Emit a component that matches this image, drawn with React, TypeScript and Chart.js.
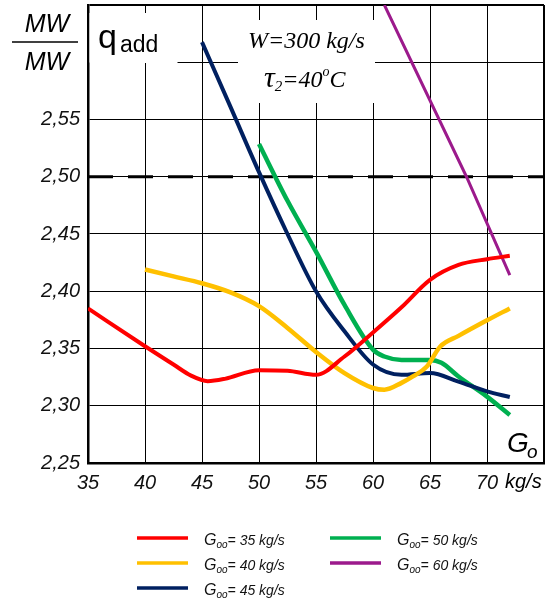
import React, { useEffect, useRef } from 'react';
import { Chart, registerables } from 'chart.js';
Chart.register(...registerables);

// ---- data ----
const xMin = 35;
const xMax = 75;
const yMin = 2.25;
const yMax = 2.65;
const refLevel = 2.5;

const redX = [35, 40, 42.5, 44, 45.5, 47, 50, 52.5, 55, 57.5, 60, 62.5, 65, 67.5, 70, 72];
const redY = [2.385, 2.352, 2.336, 2.3265, 2.3215, 2.3235, 2.331, 2.3305, 2.327, 2.343, 2.364, 2.386, 2.41, 2.423, 2.428, 2.431];

const yellowX = [40, 42.5, 45, 47.5, 50, 52.5, 55, 57.5, 60, 61, 62.5, 63.5, 64.7, 65.9, 67.5, 70, 72];
const yellowY = [2.419, 2.413, 2.407, 2.399, 2.387, 2.368, 2.347, 2.3285, 2.3155, 2.314, 2.32, 2.3256, 2.334, 2.3517, 2.361, 2.3746, 2.385];

const navyX = [45, 47.5, 50, 52.5, 55, 57.5, 60, 62.5, 65, 67.5, 70, 72];
const navyY = [2.6176, 2.561, 2.504, 2.45, 2.4, 2.365, 2.336, 2.327, 2.3285, 2.321, 2.3125, 2.3076];

const greenX = [50, 52.5, 55, 57.5, 60, 61, 62.5, 65, 66, 67.5, 70, 72];
const greenY = [2.5286, 2.479, 2.4346, 2.388, 2.349, 2.343, 2.34, 2.34, 2.3375, 2.3256, 2.308, 2.292];

const purpleX = [61, 68.2, 72];
const purpleY = [2.65, 2.5, 2.414];

const seriesLabels = ['35 kg/s', '40 kg/s', '45 kg/s', '50 kg/s', '60 kg/s'];
const seriesColors = ['#ff0000', '#ffc000', '#002060', '#00b050', '#9c1a8c'];

const pts = (xs: number[], ys: number[]) => xs.map((x, i) => ({ x, y: ys[i] }));

const SANS = '"Liberation Sans", Arial, sans-serif';
const SERIF = '"Liberation Serif", "Times New Roman", serif';

const overlay = {
  id: 'overlay',
  beforeDatasetsDraw(chart: any) {
    const c = chart.ctx;
    c.save();
    c.fillStyle = '#ffffff';
    c.fillRect(89.5, 13, 88, 50);
    c.fillRect(238, 20, 137, 83);
    c.restore();
  },
  afterDraw(chart: any) {
    const c = chart.ctx;
    c.save();
    c.fillStyle = '#000';
    c.strokeStyle = '#000';
    c.textBaseline = 'alphabetic';
    // MW / MW
    c.textAlign = 'center';
    c.font = `italic 25px ${SANS}`;
    c.fillText('MW', 47, 32);
    c.fillText('MW', 47, 70);
    c.lineWidth = 1.5;
    c.beginPath();
    c.moveTo(12, 42);
    c.lineTo(78, 42);
    c.stroke();
    // q_add
    c.textAlign = 'left';
    c.font = `34px ${SANS}`;
    c.fillText('q', 98, 48);
    c.font = `23px ${SANS}`;
    c.fillText('add', 120, 52);
    // W=300 kg/s
    c.font = `italic 24px ${SERIF}`;
    c.fillText('W=300 kg/s', 248, 48);
    // tau line
    let x = 264;
    c.font = `italic 30px ${SERIF}`;
    c.fillText('\u03c4', x, 87);
    x += c.measureText('\u03c4').width;
    c.font = `italic 15px ${SERIF}`;
    c.fillText('2', x, 91);
    x += c.measureText('2').width;
    c.font = `italic 24px ${SERIF}`;
    c.fillText('=40', x, 87);
    x += c.measureText('=40').width;
    c.font = `italic 14px ${SERIF}`;
    c.fillText('o', x, 76);
    x += c.measureText('o').width;
    c.font = `italic 24px ${SERIF}`;
    c.fillText('C', x, 87);
    // G_o
    c.font = `italic 28px ${SANS}`;
    c.fillText('G', 507, 452);
    c.font = `italic 19px ${SANS}`;
    c.fillText('o', 527, 458);
    // kg/s
    c.font = `italic 20px ${SANS}`;
    c.fillText('kg/s', 505, 488);
    // legend
    const cols = [137, 330];
    const rows = [538, 563, 588];
    const order = [[0, 0], [0, 1], [0, 2], [1, 0], [1, 1]];
    order.forEach(([col, row], i) => {
      const lx = cols[col];
      const ly = rows[row];
      c.strokeStyle = seriesColors[i];
      c.lineWidth = 3.5;
      c.beginPath();
      c.moveTo(lx, ly);
      c.lineTo(lx + 51, ly);
      c.stroke();
      let tx = lx + 67;
      c.fillStyle = '#111';
      c.font = `italic 16px ${SANS}`;
      c.fillText('G', tx, ly + 7);
      tx += c.measureText('G').width;
      c.font = `italic 10px ${SANS}`;
      c.fillText('oo', tx, ly + 9.5);
      tx += c.measureText('oo').width;
      c.font = `italic 14px ${SANS}`;
      c.fillText('= ' + seriesLabels[i], tx, ly + 7);
    });
    c.restore();
  },
};

export default function App() {
  const ref = useRef<HTMLCanvasElement | null>(null);
  useEffect(() => {
    if (!ref.current) return;
    const mk = (xs: number[], ys: number[], color: string, w: number, mono = true) => ({
      data: pts(xs, ys),
      borderColor: color,
      backgroundColor: color,
      borderWidth: w,
      pointRadius: 0,
      fill: false,
      tension: mono ? 0.4 : 0,
      cubicInterpolationMode: mono ? 'monotone' : 'default',
      order: 1,
    });
    const chart = new Chart(ref.current, {
      type: 'line',
      data: {
        datasets: [
          mk(redX, redY, seriesColors[0], 4),
          mk(yellowX, yellowY, seriesColors[1], 4.5),
          mk(navyX, navyY, seriesColors[2], 4),
          mk(greenX, greenY, seriesColors[3], 4.5),
          mk(purpleX, purpleY, seriesColors[4], 3, false),
          {
            data: [{ x: xMin, y: refLevel }, { x: xMax, y: refLevel }],
            borderColor: '#000',
            borderWidth: 3,
            borderDash: [25, 15],
            pointRadius: 0,
            fill: false,
            order: 10,
          },
        ] as any,
      },
      options: {
        animation: false,
        responsive: false,
        events: [],
        layout: { padding: { left: 0, right: 8, top: 5, bottom: 109 } },
        plugins: { legend: { display: false }, tooltip: { enabled: false } },
        scales: {
          x: {
            type: 'linear',
            min: xMin,
            max: xMax,
            afterFit: (s: any) => {
              s.height = 30;
              s.paddingLeft = 0;
              s.paddingRight = 0;
            },
            border: { display: true, color: '#000', width: 2.5 },
            grid: {
              color: '#000',
              lineWidth: (ctx: any) => (ctx.index === 8 ? 2 : 1),
              drawTicks: false,
            },
            ticks: {
              stepSize: 5,
              padding: 8,
              maxRotation: 0,
              color: '#111',
              font: { family: SANS, size: 20, style: 'italic' },
              callback: (v: any) => (Number(v) >= xMax ? '' : String(v)),
            },
          },
          y: {
            type: 'linear',
            min: yMin,
            max: yMax,
            afterFit: (s: any) => {
              s.width = 88;
              s.paddingTop = 0;
              s.paddingBottom = 0;
            },
            border: { display: true, color: '#000', width: 2.5 },
            grid: {
              color: '#000',
              lineWidth: (ctx: any) => (ctx.index === 8 ? 2 : 1),
              drawTicks: false,
            },
            ticks: {
              stepSize: 0.05,
              padding: 8,
              color: '#111',
              font: { family: SANS, size: 20, style: 'italic' },
              callback: (v: any) => (Number(v) > 2.575 ? '' : Number(v).toFixed(2).replace('.', ',')),
            },
          },
        },
      },
      plugins: [overlay],
    } as any);
    return () => chart.destroy();
  }, []);
  return (
    <div style={{ position: 'absolute', left: 0, top: 0, width: 552, height: 602 }}>
      <canvas ref={ref} width={552} height={602} style={{ display: 'block' }} />
    </div>
  );
}
